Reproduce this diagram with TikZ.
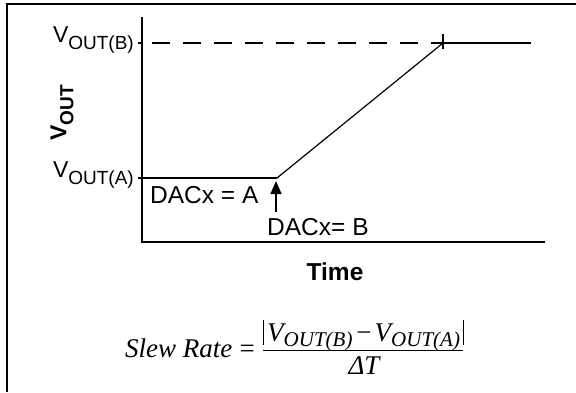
\documentclass[tikz,border=0pt]{standalone}
\usepackage{fontspec}
\setmainfont{Liberation Sans}
\newfontfamily\timesfont{Liberation Serif}
\usepackage{tikz}
\usetikzlibrary{arrows.meta,positioning,calc}

% subscript helpers
\newcommand{\sublbl}[2]{#1\raisebox{-7pt}{\fontsize{19}{19}\selectfont #2}}
\newcommand{\fsub}[2]{#1\raisebox{-5pt}{\fontsize{21}{21}\selectfont #2}}

\begin{document}
\begin{tikzpicture}[x=1pt,y=-1pt,>=Latex,
  axis/.style={line width=2.6pt},
  trace/.style={line width=2.4pt},
  vlbl/.style={inner sep=0pt,anchor=base east,font=\fontsize{23}{23}\selectfont},
  lbl/.style={inner sep=0pt,anchor=base west,font=\fontsize{24.5}{24.5}\selectfont},
  frm/.style={inner sep=0pt,font=\timesfont\itshape\fontsize{27}{27}\selectfont}]
\useasboundingbox (0,0) rectangle (576,392);
% frame
\draw[line width=1.8pt] (7,392) -- (7,4) -- (576,4);
% axes
\coordinate (ytop) at (142,17);
\coordinate (org) at (142,242);
\coordinate (xend) at (545,242);
\draw[axis] (ytop) -- (org) -- (xend);
% output levels
\coordinate (lvlA) at (142,178);
\coordinate (tickA) at (138,178);
\coordinate (bend) at (277,178);
\coordinate (lvlB) at (142,43);
\coordinate (tickB) at (138,43);
\coordinate (reach) at (443,43);
\coordinate (endB) at (531,43);
\draw[trace] (tickA) -- (bend);
\draw[trace] (tickB) -- (lvlB);
\draw[trace,dash pattern=on 18pt off 13pt,dash phase=21pt] (lvlB) -- (reach);
\draw[trace] (reach) -- (endB);
\draw[line width=1.2pt] (bend) -- (reach);
\draw[line width=2pt] ([yshift=9pt]reach) -- ([yshift=-6pt]reach);
% DAC update
\coordinate (hit) at (276,181);
\coordinate (tail) at (276,212);
\draw[line width=1.5pt,-{Triangle[width=11pt,length=13pt]}] (tail) -- (hit);
% labels
\node[vlbl] (vb) at (134,42) {\sublbl{V}{OUT(B)}};
\node[vlbl] (va) at (134,177) {\sublbl{V}{OUT(A)}};
\node[rotate=90,inner sep=0pt,font=\bfseries\fontsize{23}{23}\selectfont] (vout) at (62,113) {\sublbl{V}{OUT}};
\node[lbl] (daca) at (150,203) {DACx = A};
\node[lbl] (dacb) at (267,235) {DACx= B};
\node[inner sep=0pt,anchor=base,font=\bfseries\fontsize{24.5}{24.5}\selectfont] (time) at (335,280) {Time};
% slew rate formula
\node[frm,anchor=base west] (slew) at (125,357) {Slew Rate};
\node[frm,anchor=base] (eq) at (247,357) {=};
\node[frm,anchor=base west] (num) at (267,341) {\fsub{V}{OUT(B)}\hspace{2pt}−\hspace{2pt}\fsub{V}{OUT(A)}};
\node[frm,anchor=base] (dt) at (364,374) {ΔT};
\coordinate (fracL) at (263,350);
\coordinate (fracR) at (463,350);
\draw[line width=1pt] (fracL) -- (fracR);
\draw[line width=1pt] (263,320) -- (263,345);
\draw[line width=1pt] (463,320) -- (463,345);
\end{tikzpicture}
\end{document}
